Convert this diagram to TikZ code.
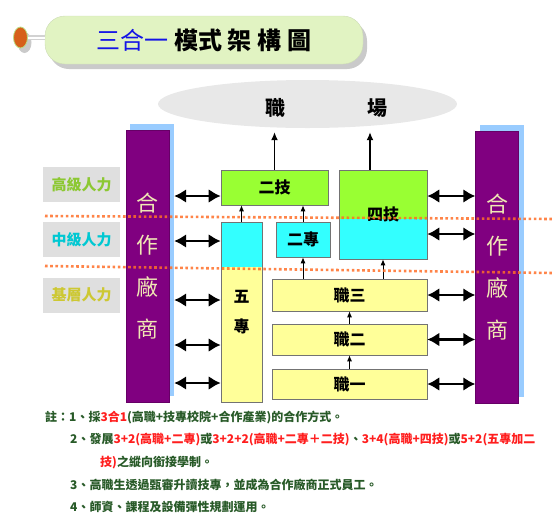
\documentclass[tikz,border=0pt]{standalone}
\usepackage{fontspec}
\setmainfont{Noto Sans CJK TC}
\usetikzlibrary{arrows.meta,shapes.geometric,shadows}
\definecolor{purplebar}{RGB}{128,0,128}
\definecolor{shadowblue}{RGB}{153,204,255}
\definecolor{greenbox}{RGB}{153,255,51}
\definecolor{cyanbox}{RGB}{51,255,255}
\definecolor{yellowbox}{RGB}{255,255,153}
\definecolor{beige}{RGB}{240,232,180}
\definecolor{pillgreen}{RGB}{225,243,194}
\definecolor{dotorange}{RGB}{214,96,26}
\definecolor{lineorange}{RGB}{255,110,40}
\definecolor{notegreen}{RGB}{40,90,40}
\definecolor{notered}{RGB}{255,30,30}
\definecolor{titleblue}{RGB}{20,20,230}
\definecolor{lvgreen}{RGB}{140,200,50}
\definecolor{lvcyan}{RGB}{0,200,210}
\definecolor{lvyellow}{RGB}{205,200,50}
\newcommand{\redtxt}[1]{\textcolor{notered}{#1}}

\begin{document}
\begin{tikzpicture}[x=1pt,y=-1pt,
    box/.style={draw=black!55, line width=0.6pt, inner sep=0pt, font=\fontsize{16}{18}\selectfont\bfseries},
    partner/.style={fill=purplebar, draw=purplebar!80!black, minimum width=43pt, minimum height=272pt,
        inner sep=0pt, text=beige, align=center, font=\fontsize{22}{42}\selectfont},
    partnershadow/.style={fill=shadowblue, minimum width=44pt, minimum height=272pt, inner sep=0pt},
    level/.style={fill=gray!25, minimum width=77pt, minimum height=35pt, font=\fontsize{15}{15}\selectfont\bfseries},
    twoway/.style={{Latex[length=12pt,width=14pt]}-{Latex[length=12pt,width=14pt]}, line width=2.8pt},
    jobarrow/.style={-{Latex[length=8pt,width=7pt]}, line width=1.3pt, shorten >=4pt},
    riser/.style={-{Latex[length=6pt,width=5pt]}, line width=0.9pt},
    levelline/.style={lineorange, line width=2.6pt, dash pattern=on 2.6pt off 2.6pt, opacity=0.85},
    note/.style={anchor=west, inner sep=0pt, text=notegreen, font=\fontsize{12}{12}\selectfont\bfseries}
  ]
  \useasboundingbox (0,0) rectangle (552,515);

  % title
  \node[ellipse, fill=dotorange, draw=lvgreen!60, line width=0.8pt, minimum width=14pt, minimum height=21pt,
        inner sep=0pt, drop shadow={shadow xshift=4pt, shadow yshift=-5pt, fill=gray!70, opacity=0.6}] (dot) at (20.5,37.5) {};
  \node[fill=pillgreen, draw=pillgreen!80!gray, rounded corners=20pt, minimum width=318pt, minimum height=48pt,
        font=\fontsize{24}{24}\selectfont\bfseries,
        drop shadow={shadow xshift=4pt, shadow yshift=-5pt, fill=gray!70, opacity=0.6}] (title) at (204,40)
        {\textcolor{titleblue}{\mdseries 三合一}\hspace{6pt}模式\hspace{6pt}架\hspace{6pt}構\hspace{6pt}圖};
  \draw[gray!35, line width=1.5pt, double=white, double distance=2pt] (dot.east) -- (dot.east -| title.west);

  % workplace
  \node[ellipse, fill=gray!18, minimum width=299pt, minimum height=48pt, inner sep=0pt] (zhichang) at (307.5,104) {};
  \node[font=\fontsize{20}{20}\selectfont\bfseries] (zhi) at (275,108) {職};
  \node[font=\fontsize{20}{20}\selectfont\bfseries] (chang) at (377,108) {場};

  % levels
  \node[level, text=lvgreen] (gaoji) at (81.5,184.5) {高級人力};
  \node[level, text=lvcyan] (zhongji) at (81.5,239.5) {中級人力};
  \node[level, text=lvyellow] (jiceng) at (81.5,295) {基層人力};

  % partners
  \node[partnershadow] (hezuoLsh) at (152,260) {};
  \node[partner] (hezuoL) at (147.5,266) {合\\作\\廠\\商};
  \node[partnershadow] (hezuoRsh) at (502,261) {};
  \node[partner] (hezuoR) at (497,267) {合\\作\\廠\\商};

  % schools
  \node[box, fill=greenbox, minimum width=107pt, minimum height=35pt] (erji) at (274.5,187.5) {二技};
  \node[box, fill=yellowbox, minimum width=41pt, minimum height=180pt, align=center,
        font=\fontsize{16}{30}\selectfont\bfseries,
        path picture={\fill[cyanbox] (path picture bounding box.north west)
            rectangle ([yshift=-45pt]path picture bounding box.north east);}] (wuzhuan) at (241.5,312) {五\\專};
  \node[box, fill=cyanbox, minimum width=54pt, minimum height=35pt] (erzhuan) at (303,239.5) {二專};
  \node[box, fill=cyanbox, minimum width=88pt, minimum height=89pt,
        path picture={\fill[greenbox] (path picture bounding box.north west)
            rectangle ([yshift=-49pt]path picture bounding box.north east);}] (siji) at (383,214.5) {\raisebox{-7pt}{四技}};
  \node[box, fill=yellowbox, minimum width=155pt, minimum height=32pt] (zhi3) at (349.5,295) {職三};
  \node[box, fill=yellowbox, minimum width=155pt, minimum height=31pt] (zhi2) at (349.5,339.5) {職二};
  \node[box, fill=yellowbox, minimum width=155pt, minimum height=30pt] (zhi1) at (349.5,384) {職一};

  % to the workplace
  \coordinate (s1) at ([xshift=-13pt]siji.north);
  \draw[jobarrow] (erji.north) -- (erji.north |- zhichang.south);
  \draw[jobarrow] (s1) -- (s1 |- zhichang.south);

  % upward paths
  \draw[riser] (wuzhuan.north) -- (wuzhuan.north |- erji.south);
  \draw[riser] (erzhuan.north) -- (erzhuan.north |- erji.south);
  \draw[riser] (zhi3.north -| erzhuan.south) -- (erzhuan.south);
  \draw[riser] (zhi3.north -| siji.south) -- (siji.south);
  \draw[riser] (zhi2.north) -- (zhi3.south);
  \draw[riser] (zhi1.north) -- (zhi2.south);

  % left partner links
  \coordinate (l1) at ([yshift=-8.5pt]erji.west);
  \coordinate (l2) at ([yshift=71pt]wuzhuan.west);
  \coordinate (l3) at ([yshift=12pt]wuzhuan.west);
  \coordinate (l4) at ([yshift=-33pt]wuzhuan.west);
  \coordinate (l5) at ([yshift=-71pt]wuzhuan.west);
  \draw[twoway] (l1 -| hezuoLsh.east) -- (l1);
  \draw[twoway] (l2 -| hezuoLsh.east) -- (l2);
  \draw[twoway] (l3 -| hezuoLsh.east) -- (l3);
  \draw[twoway] (l4 -| hezuoLsh.east) -- (l4);
  \draw[twoway] (l5 -| hezuoLsh.east) -- (l5);

  % right partner links
  \coordinate (r1) at ([yshift=18.5pt]siji.east);
  \coordinate (r2) at ([yshift=-19.5pt]siji.east);
  \draw[twoway] (r1) -- (r1 -| hezuoR.west);
  \draw[twoway] (r2) -- (r2 -| hezuoR.west);
  \draw[twoway] (zhi3.east) -- (zhi3.east -| hezuoR.west);
  \draw[twoway] (zhi2.east) -- (zhi2.east -| hezuoR.west);
  \draw[twoway] (zhi1.east) -- (zhi1.east -| hezuoR.west);

  % level borders
  \draw[levelline] (45,216) -- (552,219);
  \draw[levelline] (45,266) -- (552,273);

  % notes
  \node[note] (note1) at (45,417) {註：1、採\redtxt{3合1}(高職+技專校院+合作產業)的合作方式。};
  \node[note] (note2) at (70,440) {2、發展\redtxt{3+2(高職+二專)}或\redtxt{3+2+2(高職+二專＋二技)}、\redtxt{3+4(高職+四技)}或\redtxt{5+2(五專加二}};
  \node[note] (note3) at (100,462) {\redtxt{技)}之縱向銜接學制。};
  \node[note] (note4) at (70,485) {3、高職生透過甄審升讀技專，並成為合作廠商正式員工。};
  \node[note] (note5) at (70,507) {4、師資、課程及設備彈性規劃運用。};
\end{tikzpicture}
\end{document}
